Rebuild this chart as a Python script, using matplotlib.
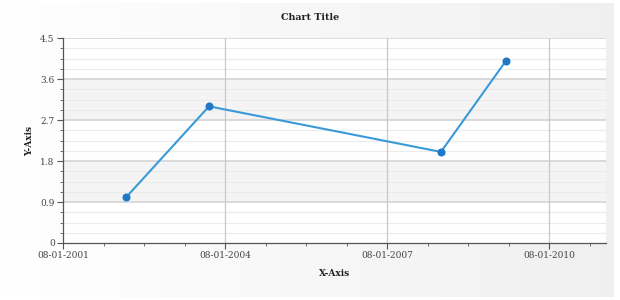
import numpy as np
import matplotlib
matplotlib.use("Agg")
import matplotlib.pyplot as plt
import matplotlib.dates as mdates

# Data
dates = ["2002-10-01", "2004-04-15", "2008-08-01", "2009-10-15"]
values = [1.0, 3.0, 2.0, 4.0]
x_ticks = ["2001-08-01", "2004-08-01", "2007-08-01", "2010-08-01"]
x_tick_labels = ["08-01-2001", "08-01-2004", "08-01-2007", "08-01-2010"]
y_ticks = [0, 0.9, 1.8, 2.7, 3.6, 4.5]
y_tick_labels = ["0", "0.9", "1.8", "2.7", "3.6", "4.5"]
title = "Chart Title"
x_label = "X-Axis"
y_label = "Y-Axis"

W, H = 620, 300
fig = plt.figure(figsize=(W / 100, H / 100), dpi=100)
fig.patch.set_facecolor("white")

# gradient background (inset panel)
bg = fig.add_axes([0, 3 / H, 1 - 6 / W, 1 - 6 / H], zorder=-10)
gx = np.linspace(0, 1, 256)
grad = (1.0 - 0.06 * gx)[None, :]
bg.imshow(np.dstack([grad, grad, grad]), aspect="auto", extent=[0, 1, 0, 1])
bg.axis("off")

left, right = 63 / W, 606 / W
bottom, top = 1 - 243 / H, 1 - 38 / H
ax = fig.add_axes([left, bottom, right - left, top - bottom])
ax.set_facecolor("white")

xd = [mdates.datestr2num(d) for d in dates]
xt = [mdates.datestr2num(d) for d in x_ticks]
span = xt[1] - xt[0]
xmin = xt[0]
xmax = xt[0] + span * (606 - 63) / (225 - 63)

ax.set_xlim(xmin, xmax)
ax.set_ylim(0, 4.5)

# alternating bands
for i in range(len(y_ticks) - 1):
    if i % 2 == 1:
        ax.axhspan(y_ticks[i], y_ticks[i + 1], color="#f4f4f4", zorder=0, lw=0)

# minor horizontal grid
for i in range(len(y_ticks) - 1):
    step = (y_ticks[i + 1] - y_ticks[i]) / 4
    for k in range(1, 4):
        ax.axhline(y_ticks[i] + k * step, color="#ebebeb", lw=0.8, zorder=1)
# major horizontal grid
for yv in y_ticks[1:]:
    ax.axhline(yv, color="#d4d4d4", lw=1.2, zorder=1)
# vertical grid
for xv in xt[1:]:
    ax.axvline(xv, color="#c8c8c8", lw=0.9, zorder=1)

ax.plot(xd, values, color="#3a9ad9", lw=1.5, zorder=3, clip_on=False)
ax.plot(xd, values, "o", color="#1f78c8", ms=4.8, zorder=4, clip_on=False)

for s in ["top", "right"]:
    ax.spines[s].set_visible(False)
ax.spines["left"].set_color("#555555")
ax.spines["bottom"].set_color("#555555")
ax.spines["left"].set_linewidth(0.9)
ax.spines["bottom"].set_linewidth(0.9)

ax.set_xticks(xt)
ax.set_xticklabels(x_tick_labels)
minor_x = []
x = xt[0]
while x <= xmax:
    for k in range(1, 4):
        v = x + k * span / 4
        if v <= xmax:
            minor_x.append(v)
    x += span
ax.set_xticks(minor_x, minor=True)

ax.set_yticks(y_ticks)
ax.set_yticklabels(y_tick_labels)
minor_y = []
for i in range(len(y_ticks) - 1):
    step = (y_ticks[i + 1] - y_ticks[i]) / 4
    minor_y += [y_ticks[i] + k * step for k in range(1, 4)]
ax.set_yticks(minor_y, minor=True)

ax.tick_params(axis="both", which="major", length=4, width=0.8, color="#555555",
               labelsize=6.5, labelcolor="#444444", pad=2)
ax.tick_params(axis="both", which="minor", length=2, width=0.6, color="#555555")
for lab in ax.get_xticklabels() + ax.get_yticklabels():
    lab.set_family("DejaVu Serif")

fig.text(310 / W, 1 - 18 / H, title, ha="center", va="center",
         family="DejaVu Serif", fontsize=6.8, fontweight="bold", color="#222222")
fig.text(335 / W, 1 - 273 / H, x_label, ha="center", va="center",
         family="DejaVu Serif", fontsize=6.5, fontweight="bold", color="#222222")
fig.text(30 / W, 1 - 141 / H, y_label, ha="center", va="center", rotation=90,
         family="DejaVu Serif", fontsize=6.5, fontweight="bold", color="#222222")

fig.savefig("out.png", dpi=100)
